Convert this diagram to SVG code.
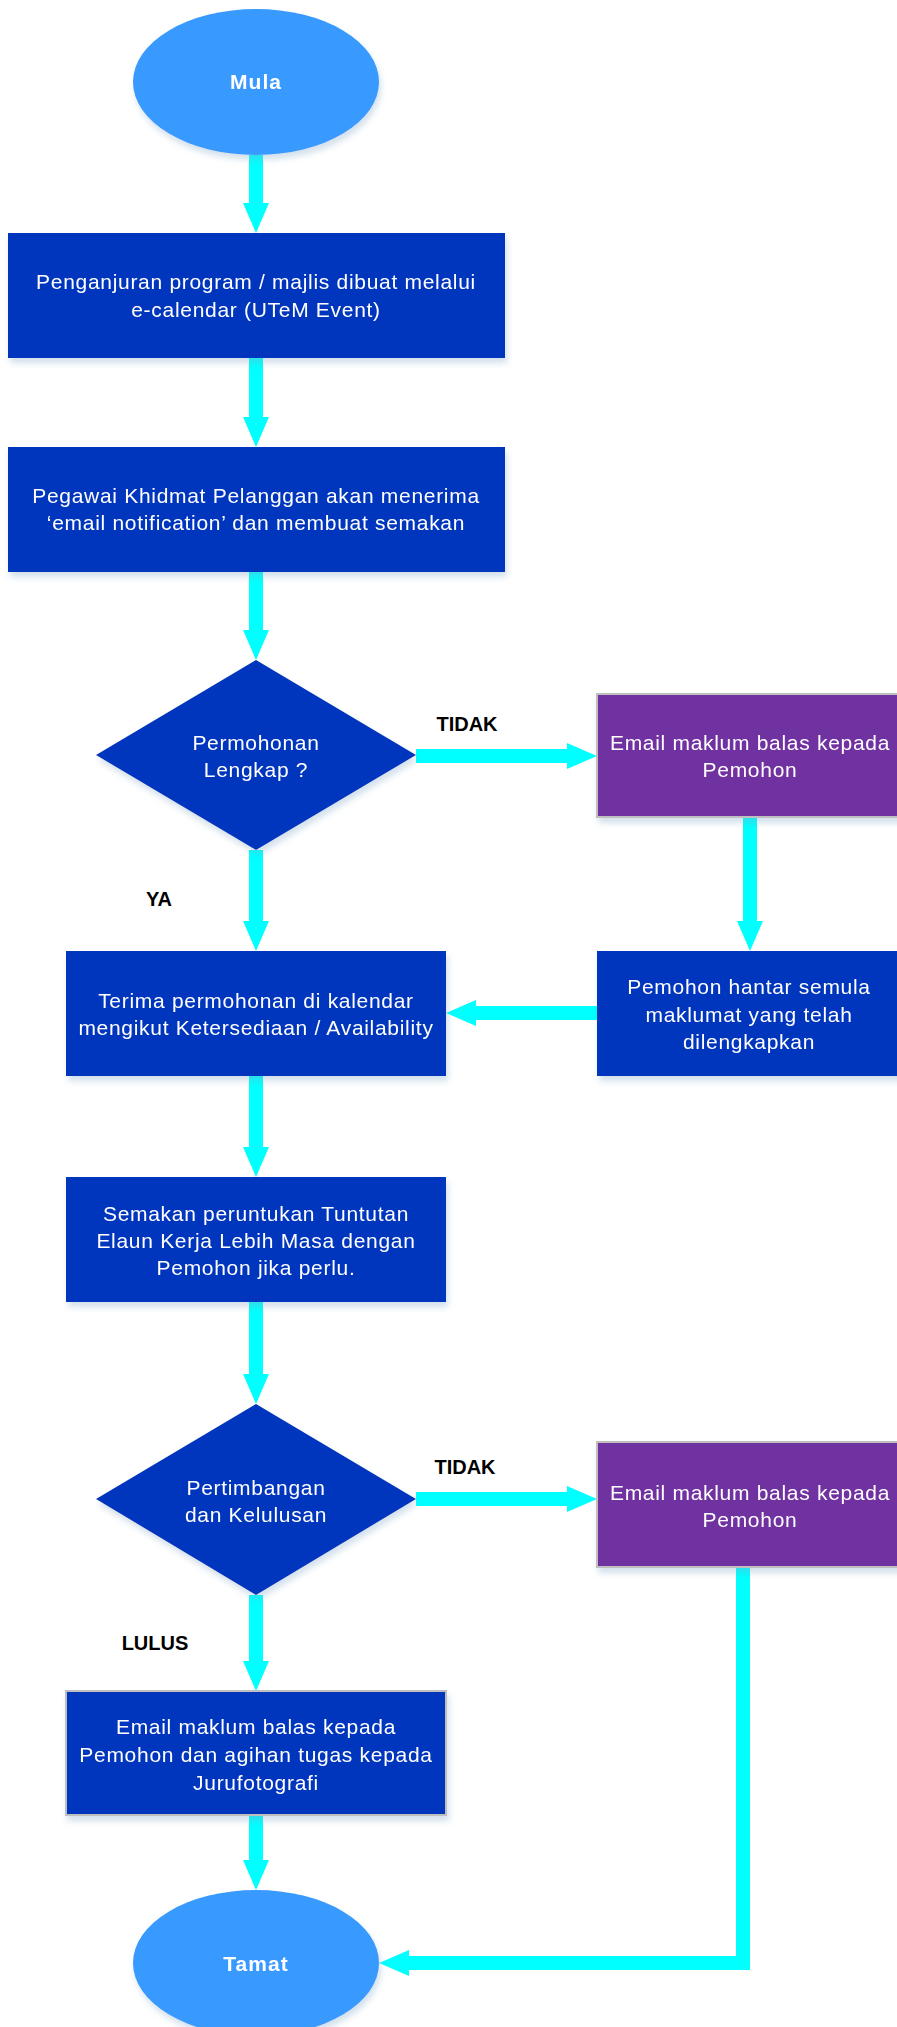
<svg xmlns="http://www.w3.org/2000/svg" width="897" height="2027" viewBox="0 0 897 2027">
<style>
.box{fill:#0336BE;}
.pur{fill:#7030A0;stroke:#BFBFBF;stroke-width:2;}
.gb{stroke:#BFBFBF;stroke-width:2;}
.term{fill:#3999FF;}
.t{font-family:"Liberation Sans",Arial,sans-serif;font-size:21px;fill:#FFFFFF;text-anchor:middle;letter-spacing:0.7px;}
.tb{font-family:"Liberation Sans",Arial,sans-serif;font-size:21px;font-weight:bold;fill:#FFFFFF;text-anchor:middle;letter-spacing:1px;}
.lbl{font-family:"Liberation Sans",Arial,sans-serif;font-size:20px;font-weight:bold;fill:#000000;text-anchor:middle;}
.c{fill:none;stroke:#00FFFF;stroke-width:14;}
</style>
<defs>
<filter id="sh" x="-10%" y="-10%" width="130%" height="140%">
<feDropShadow dx="2" dy="5" stdDeviation="3" flood-color="#7FA6C8" flood-opacity="0.35"/>
</filter>
<marker id="ah" markerUnits="userSpaceOnUse" markerWidth="32" markerHeight="28" refX="2" refY="13" orient="auto">
<path d="M0,0 L30,13 L0,26 Z" fill="#00FFFF"/>
</marker>
</defs>

<g id="connectors">
<line class="c" x1="256" y1="155" x2="256" y2="205" marker-end="url(#ah)"/>
<line class="c" x1="256" y1="358" x2="256" y2="419" marker-end="url(#ah)"/>
<line class="c" x1="256" y1="572" x2="256" y2="632" marker-end="url(#ah)"/>
<line class="c" x1="416" y1="756" x2="569" y2="756" marker-end="url(#ah)"/>
<line class="c" x1="750" y1="817" x2="750" y2="923" marker-end="url(#ah)"/>
<line class="c" x1="597" y1="1013" x2="474" y2="1013" marker-end="url(#ah)"/>
<line class="c" x1="256" y1="850" x2="256" y2="923" marker-end="url(#ah)"/>
<line class="c" x1="256" y1="1076" x2="256" y2="1149" marker-end="url(#ah)"/>
<line class="c" x1="256" y1="1302" x2="256" y2="1376" marker-end="url(#ah)"/>
<line class="c" x1="416" y1="1499" x2="569" y2="1499" marker-end="url(#ah)"/>
<line class="c" x1="256" y1="1595" x2="256" y2="1663" marker-end="url(#ah)"/>
<line class="c" x1="256" y1="1815" x2="256" y2="1862" marker-end="url(#ah)"/>
<polyline class="c" points="743,1567 743,1963 407,1963" marker-end="url(#ah)"/>
</g>

<g id="mula" filter="url(#sh)">
<ellipse class="term" cx="256" cy="82" rx="123" ry="73"/>
<text class="tb" x="256" y="89">Mula</text>
</g>

<g id="penganjuran" filter="url(#sh)">
<rect class="box" x="8" y="233" width="497" height="125"/>
<text class="t" x="256" y="289">Penganjuran program / majlis dibuat melalui</text>
<text class="t" x="256" y="317">e-calendar (UTeM Event)</text>
</g>

<g id="pegawai" filter="url(#sh)">
<rect class="box" x="8" y="447" width="497" height="125"/>
<text class="t" x="256" y="503">Pegawai Khidmat Pelanggan akan menerima</text>
<text class="t" x="256" y="530">‘email notification’ dan membuat semakan</text>
</g>

<g id="permohonan-lengkap" filter="url(#sh)">
<polygon class="box" points="256,660 416,755 256,850 96,755"/>
<text class="t" x="256" y="750">Permohonan</text>
<text class="t" x="256" y="777">Lengkap ?</text>
</g>

<g id="email-1" filter="url(#sh)">
<rect class="pur" x="597" y="694" width="306" height="123"/>
<text class="t" x="750" y="750">Email maklum balas kepada</text>
<text class="t" x="750" y="777">Pemohon</text>
</g>

<g id="pemohon-hantar" filter="url(#sh)">
<rect class="box" x="597" y="951" width="306" height="125"/>
<text class="t" x="749" y="994">Pemohon hantar semula</text>
<text class="t" x="749" y="1022">maklumat yang telah</text>
<text class="t" x="749" y="1049">dilengkapkan</text>
</g>

<g id="terima" filter="url(#sh)">
<rect class="box" x="66" y="951" width="380" height="125"/>
<text class="t" x="256" y="1008">Terima permohonan di kalendar</text>
<text class="t" x="256" y="1035">mengikut Ketersediaan / Availability</text>
</g>

<g id="semakan" filter="url(#sh)">
<rect class="box" x="66" y="1177" width="380" height="125"/>
<text class="t" x="256" y="1221">Semakan peruntukan Tuntutan</text>
<text class="t" x="256" y="1248">Elaun Kerja Lebih Masa dengan</text>
<text class="t" x="256" y="1275">Pemohon jika perlu.</text>
</g>

<g id="pertimbangan" filter="url(#sh)">
<polygon class="box" points="256,1404 416,1499 256,1595 96,1499"/>
<text class="t" x="256" y="1495">Pertimbangan</text>
<text class="t" x="256" y="1522">dan Kelulusan</text>
</g>

<g id="email-2" filter="url(#sh)">
<rect class="pur" x="597" y="1442" width="306" height="125"/>
<text class="t" x="750" y="1500">Email maklum balas kepada</text>
<text class="t" x="750" y="1527">Pemohon</text>
</g>

<g id="email-lulus" filter="url(#sh)">
<rect class="box gb" x="66" y="1691" width="380" height="124"/>
<text class="t" x="256" y="1734">Email maklum balas kepada</text>
<text class="t" x="256" y="1762">Pemohon dan agihan tugas kepada</text>
<text class="t" x="256" y="1790">Jurufotografi</text>
</g>

<g id="tamat" filter="url(#sh)">
<ellipse class="term" cx="256" cy="1963" rx="123" ry="73"/>
<text class="tb" x="256" y="1971">Tamat</text>
</g>

<g id="labels">
<text class="lbl" x="467" y="731">TIDAK</text>
<text class="lbl" x="159" y="906">YA</text>
<text class="lbl" x="465" y="1474">TIDAK</text>
<text class="lbl" x="155" y="1650">LULUS</text>
</g>
</svg>
